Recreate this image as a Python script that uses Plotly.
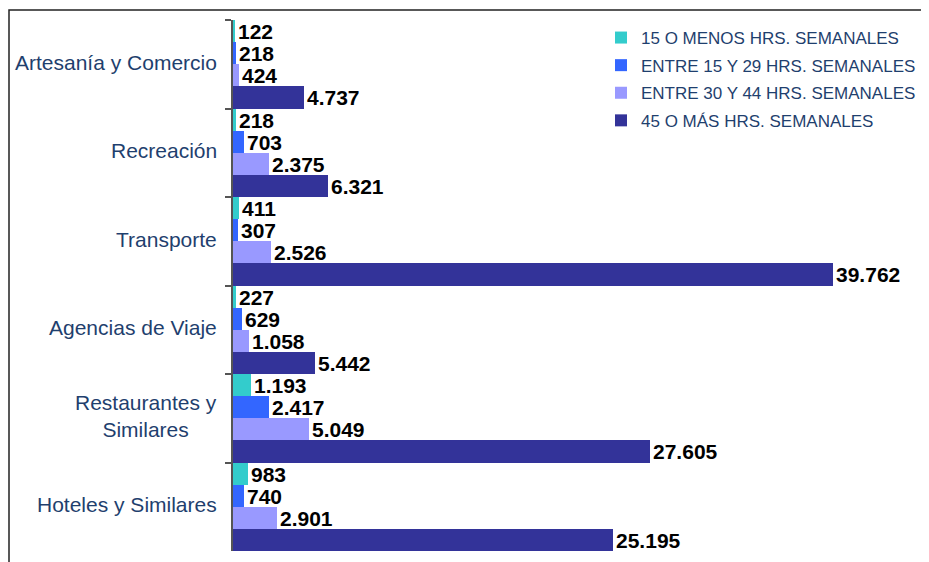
import plotly.graph_objects as go

categories = ["Artesanía y Comercio", "Recreación", "Transporte",
              "Agencias de Viaje", "Restaurantes y<br>Similares", "Hoteles y Similares"]
series_names = ["15 O MENOS HRS. SEMANALES", "ENTRE 15 Y 29 HRS. SEMANALES",
                "ENTRE 30 Y 44 HRS. SEMANALES", "45 O MÁS HRS. SEMANALES"]
s_15_menos = [122, 218, 411, 227, 1193, 983]
s_15_29 = [218, 703, 307, 629, 2417, 740]
s_30_44 = [424, 2375, 2526, 1058, 5049, 2901]
s_45_mas = [4737, 6321, 39762, 5442, 27605, 25195]
colors = ["#33CCCC", "#3366FF", "#9999FF", "#333399"]

# page is offset by the 8px default body margin
OFF = 8
W, H = 929 - OFF, 562 - OFF
L, R, T = 233 - OFF, 9, 20 - OFF
B = H - (551 - OFF)
pw, ph = W - L - R, H - T - B

def fmt(v):
    return f"{v:,}".replace(",", ".")

fig = go.Figure()
for i, (name, vals, col) in enumerate(zip(series_names, [s_15_menos, s_15_29, s_30_44, s_45_mas], colors)):
    fig.add_trace(go.Bar(
        y=categories, x=vals, orientation="h", name=name, legendgroup=f"g{i}",
        marker=dict(color=col, line=dict(width=0)),
        text=[fmt(v) for v in vals], textposition="outside",
        textfont=dict(family="Liberation Sans", size=21, color="black", weight="bold"),
        constraintext="none", cliponaxis=False,
    ))

txtcol = "#1F3F6E"
for c in categories:
    fig.add_annotation(x=0, xref="paper", y=c, yref="y", text=c, showarrow=False,
                       xanchor="right", align="center", xshift=-14, yshift=2,
                       font=dict(family="Liberation Sans", size=21, color=txtcol))

# frame lines (top and left)
x0 = (9 - OFF - L) / pw
yt = (H - B - (10 - OFF)) / ph
fig.add_shape(type="path", xref="paper", yref="paper",
              path=f"M {x0},-0.1 L {x0},{yt} L 1.05,{yt}",
              line=dict(color="#222222", width=1.5))

fig.update_layout(
    width=W, height=H, margin=dict(l=L, r=R, t=T, b=B, autoexpand=False),
    paper_bgcolor="white", plot_bgcolor="white",
    barmode="group", bargap=0, bargroupgap=0,
    font=dict(family="Liberation Sans"),
    xaxis=dict(range=[0, 39762 * pw / 600], visible=False, showgrid=False, zeroline=False),
    yaxis=dict(autorange="reversed", showticklabels=False, tickson="boundaries",
               ticks="outside", ticklen=6, tickcolor="#555555", tickwidth=1.5,
               showline=True, linecolor="#555555", linewidth=1.5, showgrid=False),
    legend=dict(x=(601 - OFF - L) / pw, xanchor="left", y=1.0, yanchor="top",
                font=dict(family="Liberation Sans", size=17, color=txtcol),
                bgcolor="rgba(0,0,0,0)", traceorder="grouped", tracegroupgap=2.5),
    showlegend=True,
)
fig.write_html("out.html")
